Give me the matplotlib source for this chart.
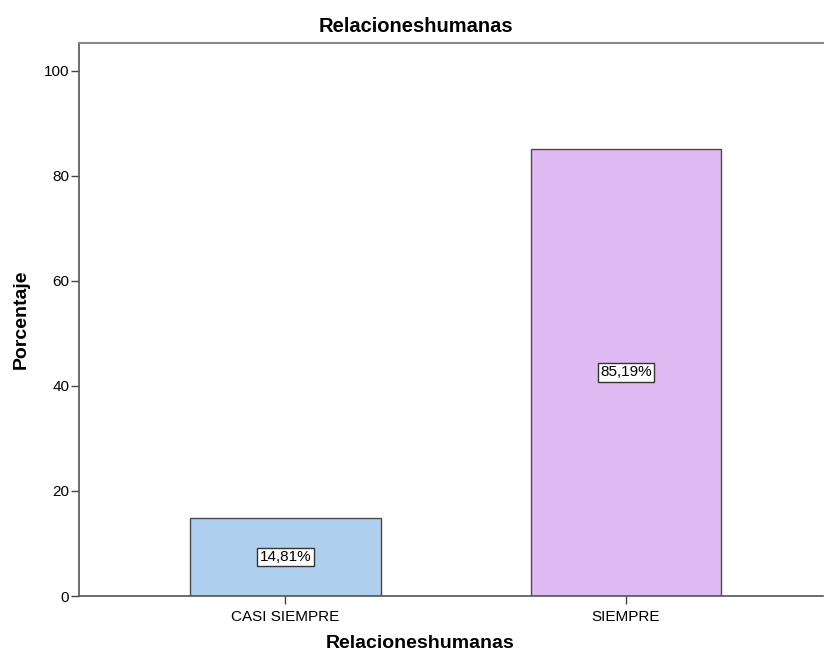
import matplotlib.pyplot as plt

plt.rcParams['font.family'] = ['Liberation Sans', 'DejaVu Sans']

# Frequency table for Relacioneshumanas (percent of respondents)
categories = ['CASI SIEMPRE', 'SIEMPRE']
percentages = [14.81, 85.19]
bar_colors = ['#aecfee', '#dfb9f1']

fig = plt.figure(figsize=(8.24, 6.55), dpi=100)
ax = fig.add_axes([79 / 824, 1 - 596 / 655, (823 - 79) / 824, (596 - 43) / 655])

x = list(range(len(categories)))
ax.bar(x, percentages, width=0.56, color=bar_colors,
       edgecolor='#4a4a4a', linewidth=1.0, zorder=2)

# value boxes in the middle of each bar
for xi, p in zip(x, percentages):
    txt = '{:.2f}%'.format(p).replace('.', ',')
    ax.text(xi, p / 2, txt, ha='center', va='center', fontsize=11,
            bbox=dict(boxstyle='square,pad=0.15', facecolor='white',
                      edgecolor='#333333', linewidth=1.0), zorder=3)

ax.set_xlim(-0.606, 1.578)
ax.set_ylim(0, 105.3)
ax.set_yticks([0, 20, 40, 60, 80, 100])
ax.set_xticks(x)
ax.set_xticklabels(categories)
ax.tick_params(axis='both', direction='out', length=6, width=1,
               color='#444444', labelsize=11, pad=1)
ax.tick_params(axis='x', pad=4)

for side in ['left', 'bottom']:
    ax.spines[side].set_color('#555555')
    ax.spines[side].set_linewidth(1.2)
ax.spines['top'].set_color('#888888')
ax.spines['top'].set_linewidth(1.5)
ax.spines['right'].set_visible(False)

# title and x label are centred on the whole figure
fig.text(0.505, 1 - 26 / 655, 'Relacioneshumanas', ha='center', va='center',
         fontsize=14.5, fontweight='bold')
fig.text(0.51, 1 - 644 / 655, 'Relacioneshumanas', ha='center', va='center',
         fontsize=14, fontweight='bold')
ax.set_ylabel('Porcentaje', fontsize=14, fontweight='bold', labelpad=10)

fig.savefig('out.png', dpi=100)
